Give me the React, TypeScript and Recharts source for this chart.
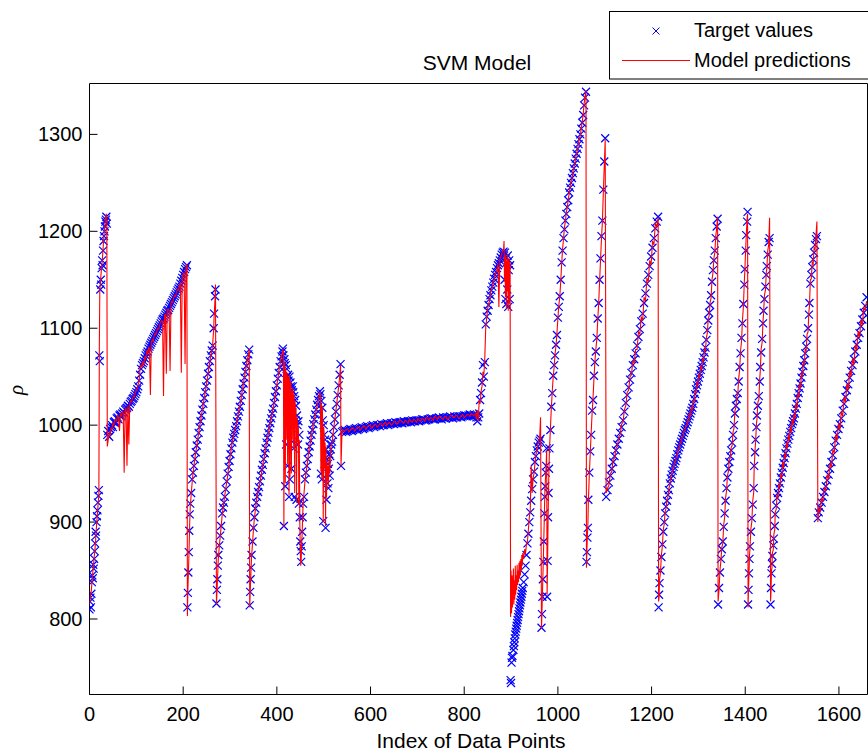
import React from 'react';
import { ComposedChart, Scatter, Line, XAxis, YAxis } from 'recharts';

// [index, target value, model prediction]
type Pt = [number, number, number];

const FONT = '"Liberation Sans", Arial, Helvetica, sans-serif';

const xTicks = [0, 200, 400, 600, 800, 1000, 1200, 1400, 1600];
const yTicks = [800, 900, 1000, 1100, 1200, 1300];

const segA: Pt[] = [
  [0, 810, 815], [1, 818, 818], [2, 822, 824], [3, 812, 826], [4, 826, 830], [5, 838, 836],
  [6, 845, 842], [7, 842, 848], [8, 856, 852], [9, 852, 858], [10, 862, 864], [11, 870, 868],
  [12, 878, 874], [13, 890, 880], [14, 886, 890], [15, 900, 896], [16, 906, 903], [17, 912, 910],
  [18, 920, 916], [19, 927, 922], [20, 933, 928], [21, 1072, 1080], [22, 1066, 1140], [23, 1140, 1145],
  [24, 1150, 1152], [25, 1145, 1158], [26, 1162, 1163], [27, 1170, 1168], [28, 1165, 1175], [29, 1180, 1182],
  [30, 1190, 1190], [31, 1195, 1196], [32, 1200, 1203], [33, 1205, 1207], [34, 1210, 1212], [35, 1212, 1216],
  [36, 1215, 1218], [37, 1208, 1212],
];

const segB: Pt[] = [
  [38, 990, 978], [40, 994, 985], [42, 988, 992], [44, 996, 990], [46, 998, 997], [48, 1000, 996],
  [50, 998, 1002], [52, 1003, 1000], [54, 1004, 1005], [56, 1002, 1006], [58, 1007, 1004], [60, 1008, 1010],
  [62, 1006, 1008], [64, 1010, 994], [66, 1011, 1012], [68, 1009, 1010], [70, 1012, 1014], [72, 1014, 1012],
  [74, 1013, 951], [76, 1016, 1015], [78, 1017, 1018], [80, 1018, 958], [82, 1020, 1020], [84, 1019, 980],
  [86, 1022, 1022], [88, 1024, 1025], [90, 1025, 1024], [92, 1027, 1028], [94, 1028, 1030], [96, 1030, 1029],
  [98, 1032, 1034], [100, 1034, 1036], [102, 1037, 1038], [104, 1040, 1042], [106, 1046, 1045], [108, 1052, 1060],
  [110, 1058, 1062], [112, 1062, 1060], [114, 1064, 1066], [116, 1066, 1062], [118, 1069, 1070], [120, 1072, 1068],
  [122, 1074, 1076], [124, 1076, 1074], [126, 1079, 1080], [128, 1081, 1078], [130, 1083, 1031], [132, 1085, 1086],
  [134, 1087, 1088], [136, 1089, 1086], [138, 1091, 1092], [140, 1093, 1095], [142, 1095, 1094], [144, 1097, 1098],
  [146, 1099, 1100], [148, 1101, 1099], [150, 1103, 1104], [152, 1105, 1106], [154, 1107, 1108], [156, 1109, 1107],
  [158, 1110, 1030], [160, 1112, 1113], [162, 1114, 1115], [164, 1116, 1053], [166, 1118, 1119], [168, 1119, 1120],
  [170, 1121, 1118], [172, 1123, 1056], [174, 1125, 1126], [176, 1127, 1128], [178, 1129, 1127], [180, 1131, 1132],
  [182, 1133, 1134], [184, 1135, 1133], [186, 1137, 1138], [188, 1139, 1140], [190, 1141, 1139], [192, 1143, 1144],
  [194, 1146, 1147], [196, 1149, 1054], [198, 1152, 1153], [200, 1155, 1156], [202, 1158, 1157], [204, 1161, 1063],
  [206, 1163, 1164], [208, 1165, 1166],
];

const segC: Pt[] = [
  [209, 812, 803], [210, 827, 830], [211, 848, 845], [212, 869, 862], [213, 891, 880], [214, 908, 900],
  [215, 919, 915], [217, 930, 928], [219, 944, 940], [221, 951, 950], [223, 958, 958], [225, 965, 966],
  [227, 972, 973], [229, 979, 978], [231, 985, 986], [233, 992, 991], [235, 998, 999], [237, 1004, 1003],
  [239, 1010, 1011], [241, 1016, 1015], [243, 1022, 1023], [245, 1028, 1027], [247, 1034, 1035], [249, 1040, 1039],
  [251, 1046, 1047], [253, 1053, 1052], [255, 1060, 1061], [257, 1066, 1065], [259, 1072, 1073], [261, 1077, 1076],
  [263, 1082, 1084], [265, 1100, 1098], [266, 1115, 1112], [268, 1133, 1130], [269, 1140, 1145],
];

const segD: Pt[] = [
  [271, 816, 815], [272, 830, 826], [273, 841, 838], [274, 855, 850], [275, 866, 862], [277, 876, 874],
  [279, 886, 885], [281, 896, 895], [283, 909, 906], [285, 915, 914], [287, 920, 921], [289, 926, 928],
  [291, 934, 935], [293, 942, 941], [295, 950, 948], [297, 957, 956], [299, 963, 964], [301, 970, 970],
  [303, 976, 977], [305, 982, 983], [307, 987, 988], [309, 991, 993], [311, 995, 996], [313, 999, 1000],
  [315, 1004, 1005], [317, 1009, 1010], [319, 1014, 1015], [321, 1019, 1020], [323, 1025, 1025], [325, 1031, 1032],
  [327, 1037, 1038], [329, 1043, 1044], [331, 1049, 1050], [333, 1055, 1056], [335, 1061, 1062], [337, 1067, 1068],
  [339, 1073, 1072], [341, 1078, 1078],
];

const segE: Pt[] = [
  [342, 814, 812], [343, 828, 826], [344, 841, 840], [345, 853, 852], [346, 866, 864], [348, 880, 878],
  [350, 894, 892], [352, 905, 904], [354, 914, 912], [356, 920, 920], [358, 926, 927], [360, 931, 932],
  [362, 936, 937], [364, 942, 941], [366, 948, 947], [368, 954, 953], [370, 959, 960], [372, 965, 964],
  [374, 971, 970], [376, 976, 977], [378, 982, 981], [380, 987, 988], [382, 992, 991], [384, 997, 998],
  [386, 1002, 1002], [388, 1007, 1008], [390, 1012, 1012], [392, 1017, 1018], [394, 1023, 1022], [396, 1029, 1030],
  [398, 1035, 1034], [400, 1041, 1042], [402, 1048, 1047], [404, 1054, 1055], [406, 1060, 1061], [408, 1066, 1066],
  [410, 1071, 1072], [412, 1076, 1075], [413, 1079, 1078],
];

const segF: Pt[] = [
  [414, 1072, 1075], [415, 896, 895], [416, 1068, 1066], [417, 1064, 1060], [418, 937, 940], [419, 1062, 1058],
  [420, 980, 985], [421, 1058, 1055], [422, 1050, 1052], [423, 958, 960], [424, 1052, 1050], [425, 1046, 1040],
  [426, 926, 928], [427, 1050, 1052], [428, 944, 946], [429, 1044, 1042], [430, 1040, 1045], [431, 955, 950],
  [432, 1036, 1035], [433, 983, 985], [434, 1040, 1038], [435, 1034, 1030], [436, 976, 975], [437, 1030, 1032],
  [438, 926, 930], [439, 1026, 1025], [440, 1005, 1000], [441, 1020, 1018], [442, 923, 920], [443, 1010, 1008],
  [444, 1000, 1003], [445, 980, 982], [446, 1004, 998], [447, 919, 918], [448, 990, 985], [449, 905, 900],
  [450, 880, 870], [451, 870, 855], [452, 859, 862], [453, 875, 878],
];

const segG: Pt[] = [
  [454, 890, 888], [455, 905, 904], [456, 919, 918], [458, 926, 930], [460, 944, 942], [462, 951, 950],
  [464, 958, 957], [466, 965, 964], [468, 972, 973], [470, 978, 978], [472, 984, 983], [474, 990, 990],
  [476, 995, 996], [478, 1001, 1000], [480, 1006, 1006], [482, 1011, 1010], [484, 1016, 1015], [486, 1021, 1020],
  [488, 1026, 1025], [490, 1030, 1030], [492, 1035, 1034],
];

const segH: Pt[] = [
  [493, 1032, 1030], [494, 950, 952], [495, 1025, 1022], [496, 944, 945], [497, 1018, 1020], [498, 1005, 1000],
  [499, 901, 900], [500, 1000, 998], [501, 990, 992], [502, 960, 955], [503, 985, 982], [504, 894, 896],
  [505, 975, 978], [506, 923, 925], [507, 965, 962], [508, 940, 942], [509, 960, 958], [510, 935, 937],
  [511, 955, 956], [512, 970, 968], [513, 948, 950], [514, 968, 966], [515, 975, 976], [516, 980, 979],
];

const segI: Pt[] = [
  [518, 983, 982], [520, 990, 991], [522, 998, 999], [524, 1006, 1007], [526, 1014, 1015], [528, 1022, 1023],
  [530, 1031, 1032], [532, 1041, 1040], [534, 1052, 1050], [536, 1063, 1062], [537, 958, 958],
];

const segJ: Pt[] = [
  [539, 993, 992], [542, 994, 995], [545, 995, 994], [548, 993, 996], [551, 994, 996], [554, 995, 993],
  [557, 996, 995], [560, 994, 997], [563, 995, 997], [566, 996, 994], [569, 997, 996], [572, 995, 998],
  [575, 996, 998], [578, 997, 995], [581, 998, 997], [584, 996, 999], [587, 997, 999], [590, 998, 996],
  [593, 999, 998], [596, 997, 1000], [599, 998, 1000], [602, 999, 997], [605, 1000, 998], [608, 998, 1001],
  [611, 999, 1001], [614, 1000, 998], [617, 1000, 999], [620, 999, 1002], [623, 1001, 1002], [626, 1000, 999],
  [629, 1000, 1001], [632, 1001, 1003], [635, 1002, 1000], [638, 1000, 1002], [641, 1001, 1003], [644, 1002, 1000],
  [647, 1002, 1001], [650, 1001, 1004], [653, 1003, 1004], [656, 1002, 1001], [659, 1002, 1002], [662, 1003, 1005],
  [665, 1003, 1005], [668, 1002, 1003], [671, 1004, 1002], [674, 1003, 1005], [677, 1003, 1004], [680, 1004, 1002],
  [683, 1004, 1006], [686, 1003, 1004], [689, 1005, 1003], [692, 1004, 1006], [695, 1004, 1005], [698, 1005, 1003],
  [701, 1005, 1007], [704, 1004, 1005], [707, 1005, 1004], [710, 1006, 1007], [713, 1006, 1006], [716, 1005, 1004],
  [719, 1005, 1008], [722, 1006, 1007], [725, 1006, 1005], [728, 1007, 1008], [731, 1007, 1007], [734, 1006, 1005],
  [737, 1006, 1009], [740, 1007, 1008], [743, 1007, 1006], [746, 1008, 1009], [749, 1007, 1008], [752, 1006, 1007],
  [755, 1008, 1006], [758, 1007, 1009], [761, 1007, 1009], [764, 1008, 1006], [767, 1008, 1007], [770, 1009, 1010],
  [773, 1008, 1010], [776, 1007, 1008], [779, 1009, 1008], [782, 1008, 1010], [785, 1008, 1010], [788, 1009, 1007],
  [791, 1009, 1008], [794, 1008, 1010], [797, 1009, 1011], [800, 1010, 1008], [803, 1010, 1009], [806, 1009, 1011],
  [809, 1010, 1011], [812, 1011, 1009], [815, 1010, 1012], [818, 1009, 1011], [821, 1011, 1010], [824, 1010, 1012],
  [826, 1008, 1006],
];

const segK: Pt[] = [
  [828, 1004, 1015], [830, 1008, 1004], [832, 1012, 1026], [834, 1026, 1022], [836, 1033, 1035], [838, 1044, 1040],
  [840, 1062, 1055], [842, 1050, 1052], [844, 1065, 1070], [846, 1104, 1102],
];

const segL: Pt[] = [
  [848, 1112, 1110], [850, 1118, 1120], [852, 1124, 1125], [854, 1130, 1128], [856, 1134, 1136], [858, 1139, 1140],
  [860, 1143, 1142], [862, 1147, 1148], [864, 1151, 1150], [866, 1155, 1156], [868, 1158, 1158], [870, 1162, 1160],
  [872, 1165, 1166], [874, 1167, 1122], [876, 1170, 1171], [878, 1173, 1174], [880, 1176, 1176], [882, 1178, 1180],
  [884, 1179, 1181],
];

const segM: Pt[] = [
  [885, 1175, 1190], [886, 1150, 1148], [887, 1178, 1176], [888, 1130, 1132], [889, 1172, 1174], [890, 1125, 1120],
  [891, 1168, 1170], [892, 1140, 1138], [893, 1175, 1177], [894, 1122, 1118], [895, 1160, 1162], [896, 1170, 1172],
  [897, 1130, 1125], [898, 1165, 1168],
];

const segN: Pt[] = [
  [899, 737, 802], [900, 734, 850], [901, 755, 806], [902, 760, 845], [903, 762, 812], [905, 768, 852],
  [906, 772, 815], [907, 776, 840], [908, 780, 820], [909, 784, 855], [910, 787, 825], [911, 790, 845],
  [912, 793, 830], [913, 796, 856], [914, 799, 835], [915, 802, 850], [916, 805, 838], [917, 808, 858],
  [918, 811, 842], [919, 814, 860], [920, 817, 845], [921, 820, 862], [922, 823, 850], [923, 826, 866],
  [924, 829, 855], [925, 832, 868], [927, 838, 862], [929, 846, 872], [931, 855, 868], [933, 866, 878],
  [935, 878, 880], [937, 888, 892], [939, 900, 905], [941, 910, 912], [943, 922, 958], [945, 934, 930],
  [947, 944, 945], [949, 952, 950], [951, 962, 960], [953, 968, 970], [955, 974, 972], [957, 978, 980],
  [959, 982, 984], [961, 984, 986], [963, 986, 1008],
];

const segO: Pt[] = [
  [965, 791, 790], [966, 805, 808], [967, 823, 826], [968, 841, 845], [969, 859, 862], [970, 880, 884],
  [971, 909, 905], [972, 926, 928], [973, 937, 940], [974, 951, 950], [975, 958, 960], [976, 976, 974],
  [977, 823, 825], [978, 860, 858], [979, 905, 900], [980, 930, 932], [981, 955, 956], [982, 976, 975],
  [984, 995, 996], [986, 1019, 1018], [988, 1033, 1035], [990, 1051, 1050],
];

const segP: Pt[] = [
  [992, 1062, 1060], [994, 1072, 1074], [996, 1083, 1082], [998, 1093, 1095], [1000, 1111, 1110], [1002, 1122, 1124],
  [1004, 1133, 1132], [1006, 1150, 1148], [1008, 1168, 1166], [1010, 1180, 1182], [1012, 1193, 1192], [1014, 1202, 1204],
  [1016, 1211, 1210], [1018, 1218, 1220], [1020, 1225, 1224], [1022, 1232, 1233], [1024, 1240, 1238], [1026, 1245, 1246],
  [1028, 1250, 1252], [1030, 1255, 1254], [1032, 1260, 1261], [1034, 1265, 1266], [1036, 1270, 1269], [1038, 1275, 1276],
  [1040, 1280, 1281], [1042, 1285, 1284], [1044, 1290, 1291], [1046, 1295, 1296], [1048, 1300, 1299], [1050, 1306, 1307],
  [1052, 1312, 1313], [1054, 1320, 1321], [1056, 1330, 1332], [1058, 1338, 1339], [1060, 1344, 1345],
];

const segQ: Pt[] = [
  [1061, 859, 853], [1062, 869, 872], [1063, 884, 886], [1064, 894, 897], [1065, 923, 920], [1067, 951, 948],
  [1069, 973, 970], [1071, 990, 992], [1073, 1015, 1012], [1075, 1026, 1028], [1077, 1051, 1048], [1079, 1065, 1066],
  [1081, 1076, 1078], [1083, 1090, 1088], [1085, 1110, 1108], [1087, 1126, 1125], [1089, 1150, 1148], [1091, 1172, 1170],
  [1093, 1195, 1192], [1095, 1211, 1210], [1097, 1243, 1240], [1099, 1272, 1268], [1101, 1296, 1295],
];

const segR: Pt[] = [
  [1103, 926, 930], [1106, 933, 935], [1109, 941, 938], [1112, 948, 950], [1115, 955, 952], [1118, 962, 965],
  [1121, 968, 966], [1124, 974, 976], [1127, 980, 978], [1130, 986, 988], [1133, 992, 990], [1136, 998, 1001],
  [1139, 1005, 1003], [1142, 1014, 1016], [1145, 1023, 1020], [1148, 1031, 1034], [1151, 1039, 1036], [1154, 1047, 1050],
  [1157, 1054, 1052], [1160, 1062, 1066], [1163, 1068, 1064], [1166, 1074, 1078], [1169, 1082, 1078], [1172, 1091, 1096],
  [1175, 1099, 1094], [1178, 1107, 1112], [1181, 1115, 1108], [1184, 1126, 1132], [1187, 1136, 1128], [1190, 1146, 1152],
  [1193, 1155, 1148], [1196, 1164, 1170], [1199, 1174, 1165], [1202, 1183, 1190], [1205, 1193, 1186], [1208, 1203, 1208],
  [1211, 1210, 1205], [1214, 1215, 1214],
];

const segS: Pt[] = [
  [1215, 812, 818], [1216, 825, 822], [1217, 837, 840], [1219, 850, 848], [1221, 864, 866], [1223, 877, 875],
  [1225, 890, 892], [1227, 900, 898], [1229, 909, 911], [1231, 916, 914], [1233, 922, 924], [1235, 928, 926],
  [1237, 933, 935], [1239, 940, 938], [1241, 945, 947], [1243, 949, 948], [1245, 953, 955], [1247, 957, 956],
  [1249, 960, 962], [1251, 963, 962], [1253, 966, 968], [1255, 970, 969], [1257, 974, 976], [1259, 977, 976],
  [1261, 980, 982], [1263, 983, 982], [1265, 986, 988], [1267, 989, 988], [1269, 992, 994], [1271, 995, 994],
  [1273, 997, 999], [1275, 1000, 999], [1277, 1003, 1005], [1279, 1006, 1004], [1281, 1009, 1012], [1283, 1012, 1010],
  [1285, 1015, 1018], [1287, 1018, 1016], [1289, 1022, 1025], [1291, 1027, 1024], [1293, 1032, 1035], [1295, 1037, 1034],
  [1297, 1041, 1044], [1299, 1045, 1042], [1301, 1049, 1052], [1303, 1053, 1050], [1305, 1057, 1060], [1307, 1061, 1058],
  [1309, 1065, 1068], [1311, 1070, 1067], [1313, 1075, 1078], [1315, 1080, 1077], [1317, 1088, 1090], [1319, 1098, 1095],
  [1321, 1108, 1110], [1323, 1116, 1113], [1325, 1124, 1127], [1327, 1134, 1131], [1329, 1148, 1150], [1331, 1160, 1157],
  [1333, 1170, 1172], [1335, 1180, 1178], [1337, 1193, 1195], [1339, 1205, 1203], [1341, 1213, 1215],
];

const segT: Pt[] = [
  [1342, 815, 818], [1344, 832, 830], [1346, 848, 850], [1348, 862, 860], [1350, 872, 874], [1352, 880, 878],
  [1354, 895, 897], [1356, 909, 905], [1358, 922, 925], [1360, 935, 932], [1362, 946, 948], [1364, 955, 952],
  [1366, 962, 965], [1368, 968, 966], [1370, 974, 977], [1372, 982, 979], [1374, 990, 993], [1376, 1000, 997],
  [1378, 1012, 1015], [1380, 1020, 1018], [1382, 1027, 1030], [1384, 1033, 1031], [1386, 1045, 1048], [1388, 1060, 1057],
  [1390, 1074, 1077], [1392, 1090, 1086], [1394, 1105, 1108], [1396, 1125, 1122], [1398, 1145, 1148], [1399, 1161, 1158],
  [1401, 1180, 1183], [1402, 1196, 1194], [1404, 1210, 1214], [1405, 1220, 1218],
];

const segU: Pt[] = [
  [1406, 815, 812], [1407, 830, 832], [1408, 847, 845], [1409, 862, 865], [1410, 875, 872], [1412, 890, 893],
  [1414, 904, 900], [1416, 918, 922], [1418, 935, 930], [1419, 958, 955], [1421, 972, 975], [1422, 985, 982],
  [1424, 998, 1002], [1425, 1010, 1006], [1427, 1020, 1024], [1429, 1030, 1026], [1431, 1045, 1049], [1432, 1060, 1055],
  [1434, 1075, 1079], [1436, 1089, 1085], [1438, 1105, 1108], [1439, 1118, 1114], [1441, 1130, 1134], [1443, 1143, 1139],
  [1445, 1155, 1158], [1446, 1164, 1161], [1448, 1176, 1180], [1450, 1189, 1186], [1452, 1193, 1214],
];

const segV: Pt[] = [
  [1454, 815, 818], [1455, 832, 828], [1456, 847, 850], [1457, 857, 853], [1458, 865, 868], [1460, 876, 872],
  [1461, 883, 887], [1463, 896, 892], [1464, 908, 910], [1466, 917, 913], [1468, 925, 928], [1470, 930, 926],
  [1472, 935, 940], [1474, 940, 936], [1476, 946, 950], [1478, 951, 946], [1480, 956, 962], [1482, 961, 956],
  [1484, 966, 971], [1486, 971, 966], [1488, 976, 982], [1490, 981, 976], [1492, 985, 990], [1494, 989, 984],
  [1496, 993, 998], [1498, 997, 992], [1500, 1001, 1006], [1502, 1004, 1000], [1504, 1007, 1012], [1506, 1012, 1006],
  [1508, 1017, 1022], [1510, 1022, 1016], [1512, 1028, 1033], [1514, 1033, 1028], [1516, 1038, 1044], [1518, 1043, 1038],
  [1520, 1049, 1054], [1522, 1055, 1050], [1524, 1061, 1066], [1526, 1067, 1062], [1528, 1074, 1079], [1530, 1081, 1076],
  [1532, 1089, 1094], [1534, 1100, 1096], [1536, 1114, 1118], [1537, 1126, 1122], [1539, 1146, 1150], [1541, 1155, 1151],
  [1543, 1163, 1168], [1545, 1171, 1166], [1547, 1178, 1183], [1549, 1186, 1181], [1551, 1192, 1196], [1553, 1195, 1210],
];

const segW: Pt[] = [
  [1555, 904, 900], [1557, 910, 914], [1560, 915, 911], [1563, 920, 925], [1566, 926, 921], [1569, 931, 936],
  [1572, 937, 932], [1575, 943, 949], [1578, 949, 944], [1581, 955, 961], [1584, 962, 956], [1587, 969, 975],
  [1590, 977, 971], [1593, 984, 990], [1596, 990, 984], [1599, 996, 1002], [1602, 1001, 995], [1605, 1007, 1014],
  [1608, 1015, 1009], [1611, 1022, 1029], [1614, 1029, 1023], [1617, 1036, 1043], [1620, 1042, 1036], [1623, 1049, 1056],
  [1626, 1056, 1050], [1629, 1062, 1069], [1632, 1068, 1062], [1635, 1076, 1083], [1638, 1083, 1077], [1641, 1090, 1097],
  [1644, 1095, 1090], [1647, 1102, 1109], [1650, 1109, 1103], [1653, 1116, 1122], [1656, 1123, 1118], [1659, 1132, 1128],
];

const rows = [
  ...segA, ...segB, ...segC, ...segD, ...segE, ...segF, ...segG, ...segH, ...segI, ...segJ, ...segK, ...segL,
  ...segM, ...segN, ...segO, ...segP, ...segQ, ...segR, ...segS, ...segT, ...segU, ...segV, ...segW,
].map(([i, t, p]) => ({ i, t, p }));

const X_DOMAIN: [number, number] = [0, 1661];
const Y_DOMAIN: [number, number] = [722.1, 1352.5];

const crossPath = (cx: number, cy: number, s = 4) =>
  `M${cx - s},${cy - s}L${cx + s},${cy + s}M${cx - s},${cy + s}L${cx + s},${cy - s}`;

const XMark = (props: any) => {
  const { cx, cy } = props;
  if (cx == null || cy == null || Number.isNaN(cx) || Number.isNaN(cy)) return <g />;
  return <path d={crossPath(cx, cy)} stroke="#0000ff" strokeWidth={1.2} fill="none" />;
};

const axisStyle = { stroke: '#000', strokeWidth: 1 };
const tickFont = { fill: '#000', fontSize: 20, fontFamily: FONT };

export default function App() {
  return (
    <div style={{ position: 'relative', width: 868, height: 755, overflow: 'hidden', background: '#fff' }}>
      <style>{'body{margin:0;background:#fff}'}</style>
      <ComposedChart width={868} height={755} data={rows} margin={{ top: 83, right: 0, bottom: 0, left: 0 }}>
        <XAxis
          dataKey="i"
          type="number"
          domain={X_DOMAIN}
          allowDataOverflow
          ticks={xTicks}
          interval={0}
          height={60.5}
          tickSize={-8}
          tickMargin={20}
          axisLine={axisStyle}
          tickLine={axisStyle}
          tick={tickFont}
        />
        <XAxis
          xAxisId="top"
          orientation="top"
          dataKey="i"
          type="number"
          domain={X_DOMAIN}
          allowDataOverflow
          ticks={xTicks}
          interval={0}
          height={0.5}
          tickSize={-8}
          axisLine={axisStyle}
          tickLine={axisStyle}
          tick={false}
        />
        <YAxis
          type="number"
          domain={Y_DOMAIN}
          allowDataOverflow
          ticks={yTicks}
          interval={0}
          width={89.5}
          tickSize={-8}
          tickMargin={15}
          axisLine={axisStyle}
          tickLine={axisStyle}
          tick={tickFont}
        />
        <YAxis
          yAxisId="right"
          orientation="right"
          type="number"
          domain={Y_DOMAIN}
          allowDataOverflow
          ticks={yTicks}
          interval={0}
          width={0.5}
          tickSize={-8}
          axisLine={axisStyle}
          tickLine={axisStyle}
          tick={false}
        />
        <Scatter data={rows} dataKey="t" shape={XMark} isAnimationActive={false} />
        <Line
          dataKey="p"
          type="linear"
          stroke="#ff0000"
          strokeWidth={1.1}
          dot={false}
          activeDot={false}
          isAnimationActive={false}
          zIndex={700}
        />
      </ComposedChart>
      <svg
        width={868}
        height={755}
        style={{ position: 'absolute', left: 0, top: 0, pointerEvents: 'none' }}
        fontFamily={FONT}
      >
        <text x={477} y={69.5} textAnchor="middle" fontSize={21} fill="#000">
          SVM Model
        </text>
        <text x={471} y={747.5} textAnchor="middle" fontSize={21} fill="#000">
          Index of Data Points
        </text>
        <text
          transform="translate(22.5,390) rotate(-90)"
          textAnchor="middle"
          fontSize={21}
          fontStyle="italic"
          fontFamily='"Liberation Serif", "DejaVu Serif", serif'
          fill="#000"
        >
          ρ
        </text>
        <rect x={609.5} y={11.5} width={300} height={67.5} fill="#fff" stroke="#000" strokeWidth={1} />
        <path d={crossPath(656, 31, 3.5)} stroke="#0000ff" strokeWidth={1} fill="none" />
        <text x={694} y={36.5} fontSize={20} fill="#000">
          Target values
        </text>
        <line x1={622} x2={690} y1={60.5} y2={60.5} stroke="#ff0000" strokeWidth={1} />
        <text x={694} y={67} fontSize={20} fill="#000">
          Model predictions
        </text>
      </svg>
    </div>
  );
}
